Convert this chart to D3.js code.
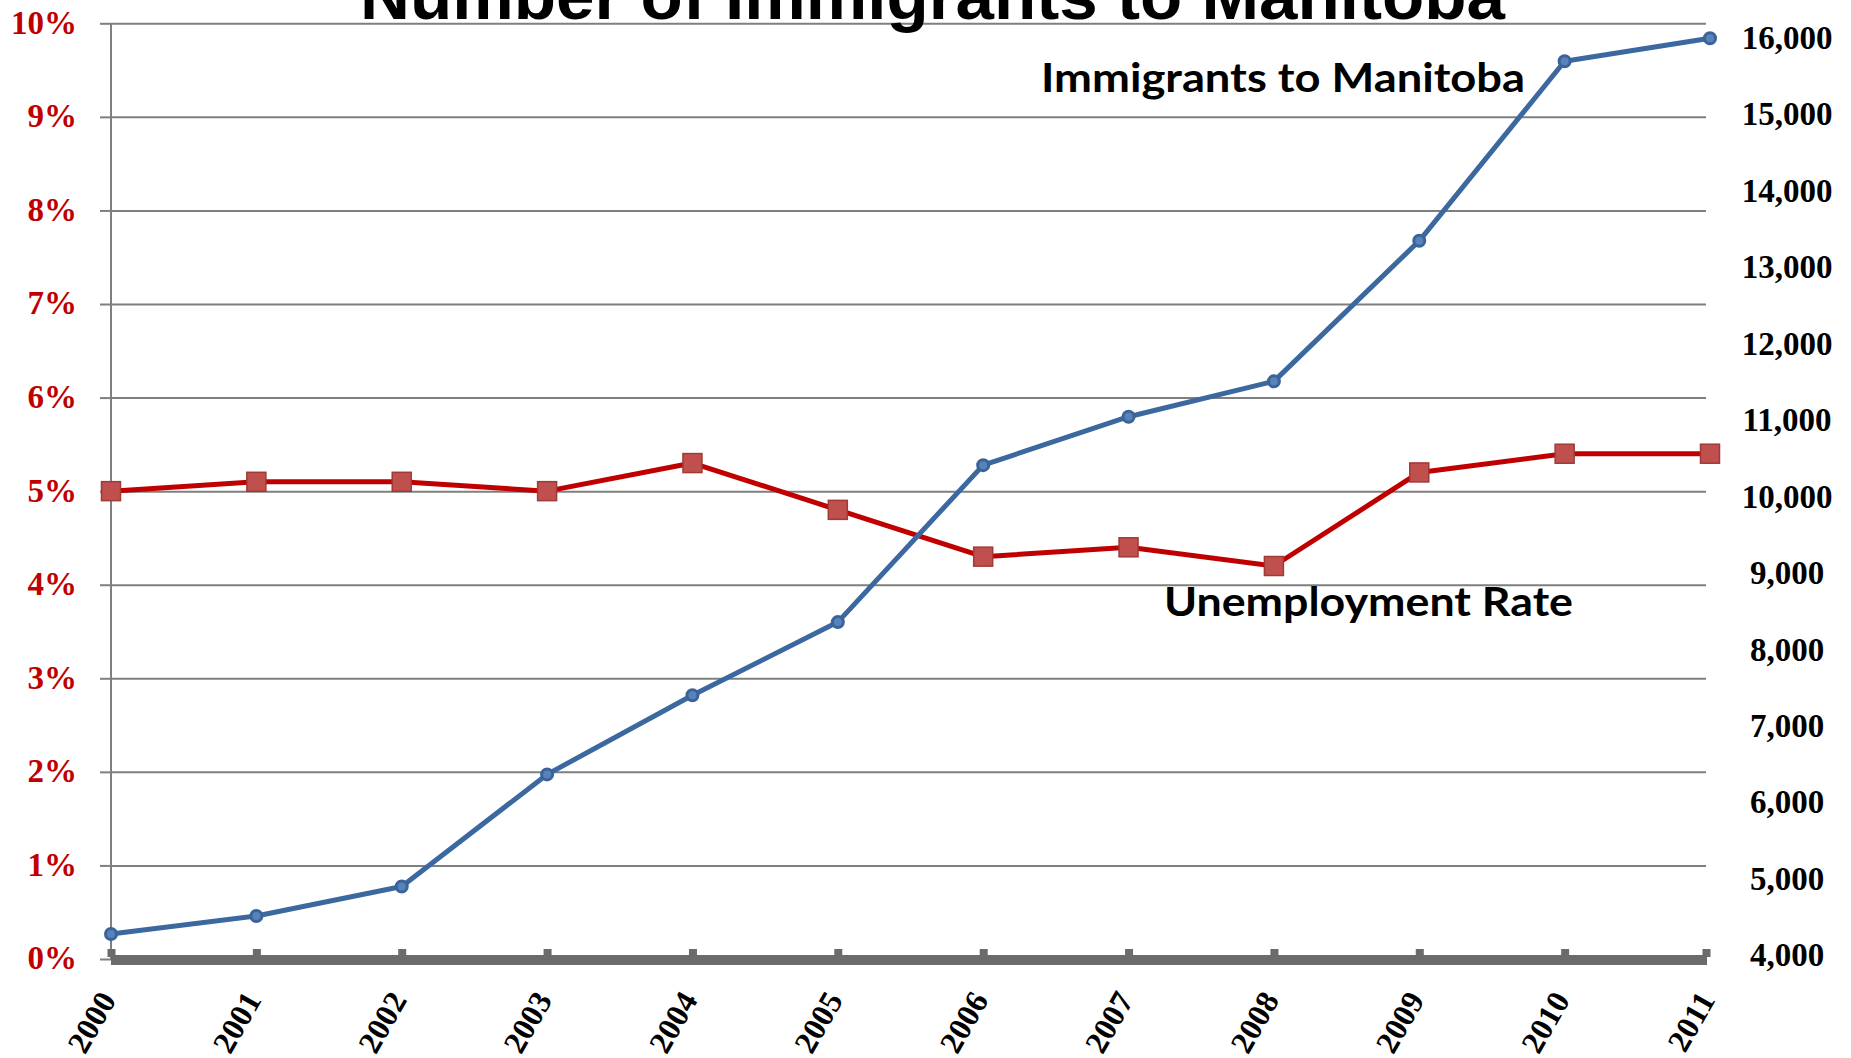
<!DOCTYPE html>
<html>
<head>
<meta charset="utf-8">
<script src="https://cdn.jsdelivr.net/npm/d3@7"></script>
<style>
  html, body { margin: 0; padding: 0; background: #ffffff; }
  svg { display: block; }
</style>
</head>
<body>
<svg id="chart" width="1851" height="1058"></svg>
<script>
// ---- data ----
const years = [2000, 2001, 2002, 2003, 2004, 2005, 2006, 2007, 2008, 2009, 2010, 2011];
const unemploymentRate = [5.0, 5.1, 5.1, 5.0, 5.3, 4.8, 4.3, 4.4, 4.2, 5.2, 5.4, 5.4];
const immigrants = [4275, 4510, 4895, 6362, 7397, 8354, 10407, 11040, 11503, 13341, 15690, 15990];
const pctTicks = [0, 1, 2, 3, 4, 5, 6, 7, 8, 9, 10];
const immTicks = [4000, 5000, 6000, 7000, 8000, 9000, 10000, 11000, 12000, 13000, 14000, 15000, 16000];
const titleText = "Number of Immigrants to Manitoba";
const immLabel = "Immigrants to Manitoba";
const rateLabel = "Unemployment Rate";

// ---- layout ----
const svg = d3.select("#chart");
const plotLeft = 111, plotRight = 1706;
const yTop = 23.3, yBottom = 959;

const x = d3.scalePoint().domain(years).range([111, 1710]);
const yL = d3.scaleLinear().domain([0, 10]).range([yBottom, yTop]);
const yR = d3.scaleLinear().domain([4000, 16000]).range([955, 37.5]);

// gridlines
const grid = svg.append("g")
  .attr("transform", `translate(${plotLeft},0)`)
  .call(d3.axisLeft(yL).tickValues(pctTicks).tickSize(-(plotRight - plotLeft)).tickFormat(""));
grid.select(".domain").remove();
grid.selectAll(".tick line").attr("stroke", "#7f7f7f").attr("stroke-width", 2);

// left axis (percent)
const leftAxis = svg.append("g")
  .attr("transform", `translate(${plotLeft},0)`)
  .call(d3.axisLeft(yL).tickValues(pctTicks).tickSize(11).tickPadding(23).tickFormat(d => d + "%"));
leftAxis.select(".domain").remove();
leftAxis.selectAll(".tick line").attr("stroke", "#7f7f7f").attr("stroke-width", 2);
leftAxis.selectAll(".tick text")
  .attr("fill", "#c00000")
  .attr("font-family", "'Liberation Serif', 'Times New Roman', serif")
  .attr("font-weight", "bold")
  .attr("font-size", 33)
  .attr("dy", "0.3em");

// left axis vertical line
svg.append("line")
  .attr("x1", plotLeft).attr("x2", plotLeft)
  .attr("y1", yL(10)).attr("y2", yL(0))
  .attr("stroke", "#7f7f7f").attr("stroke-width", 2);

// right axis (immigrants)
const rightAxis = svg.append("g")
  .attr("transform", `translate(1710,0)`)
  .call(d3.axisRight(yR).tickValues(immTicks).tickSize(0).tickPadding(77).tickFormat(d3.format(",")));
rightAxis.select(".domain").remove();
rightAxis.selectAll(".tick text")
  .attr("text-anchor", "middle")
  .attr("fill", "#000000")
  .attr("font-family", "'Liberation Serif', 'Times New Roman', serif")
  .attr("font-weight", "bold")
  .attr("font-size", 33)
  .attr("dy", "0.33em");

// bottom axis band
const bottomAxis = svg.append("g")
  .attr("transform", `translate(0,${yL(0)})`)
  .call(d3.axisBottom(x).tickSize(0).tickFormat(""));
bottomAxis.select(".domain").remove();
bottomAxis.append("line")
  .attr("x1", plotLeft).attr("x2", plotRight + 1)
  .attr("y1", 1).attr("y2", 1)
  .attr("stroke", "#6b6b6b").attr("stroke-width", 10);
bottomAxis.selectAll(".tick").append("rect")
  .attr("x", d => (d === years[years.length - 1] ? -8 : -4)).attr("y", -10)
  .attr("width", 8).attr("height", 8)
  .attr("fill", "#6b6b6b");

// x labels rotated
svg.append("g").selectAll("text")
  .data(years)
  .join("text")
  .attr("transform", d => `translate(${x(d) + 6},1000) rotate(-60)`)
  .attr("text-anchor", "end")
  .attr("fill", "#000000")
  .attr("font-family", "'Liberation Serif', 'Times New Roman', serif")
  .attr("font-weight", "bold")
  .attr("font-size", 32)
  .text(d => d);

// unemployment line (red)
const rateLine = d3.line().x((d, i) => x(years[i])).y(d => yL(d));
svg.append("path")
  .datum(unemploymentRate)
  .attr("d", rateLine)
  .attr("fill", "none")
  .attr("stroke", "#c00000")
  .attr("stroke-width", 5)
  .attr("stroke-linejoin", "round");
svg.append("g").selectAll("rect")
  .data(unemploymentRate)
  .join("rect")
  .attr("x", (d, i) => x(years[i]) - 9.5)
  .attr("y", d => yL(d) - 9.5)
  .attr("width", 19).attr("height", 19)
  .attr("fill", "#c0504d")
  .attr("stroke", "#a03a37")
  .attr("stroke-width", 1.5);

// immigrants line (blue)
const immLine = d3.line().x((d, i) => x(years[i])).y(d => yR(d));
svg.append("path")
  .datum(immigrants)
  .attr("d", immLine)
  .attr("fill", "none")
  .attr("stroke", "#3c68a0")
  .attr("stroke-width", 5)
  .attr("stroke-linejoin", "round");
svg.append("g").selectAll("circle")
  .data(immigrants)
  .join("circle")
  .attr("cx", (d, i) => x(years[i]))
  .attr("cy", d => yR(d))
  .attr("r", 5.5)
  .attr("fill", "#5783ba")
  .attr("stroke", "#3a6399")
  .attr("stroke-width", 3);

// series labels
svg.append("text")
  .attr("x", 1041).attr("y", 92)
  .attr("font-family", "Lato, 'Open Sans', sans-serif")
  .attr("font-weight", "bold")
  .attr("font-size", 41)
  .attr("textLength", 484)
  .attr("lengthAdjust", "spacingAndGlyphs")
  .attr("fill", "#000000")
  .text(immLabel);

svg.append("text")
  .attr("x", 1164).attr("y", 616)
  .attr("font-family", "Lato, 'Open Sans', sans-serif")
  .attr("font-weight", "bold")
  .attr("font-size", 41)
  .attr("textLength", 409)
  .attr("lengthAdjust", "spacingAndGlyphs")
  .attr("fill", "#000000")
  .text(rateLabel);

// title (cut off at top)
svg.append("text")
  .attr("x", 360).attr("y", 19)
  .attr("font-family", "'Liberation Sans', Arial, sans-serif")
  .attr("font-weight", "bold")
  .attr("font-size", 66)
  .attr("textLength", 1145)
  .attr("lengthAdjust", "spacingAndGlyphs")
  .attr("fill", "#000000")
  .text(titleText);
</script>
</body>
</html>
